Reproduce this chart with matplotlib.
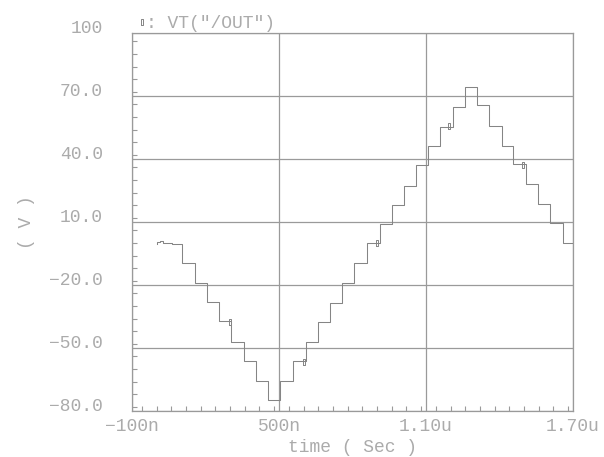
import matplotlib
import matplotlib.pyplot as plt
from matplotlib.ticker import MultipleLocator

matplotlib.use('Agg')

# transient output of /OUT, time in ns, voltage in V
init_t = [0, 3, 14, 28, 62]
init_v = [-0.5, 0.3, 0.8, 0.2, -0.4]

step_t = [105, 157, 207, 256, 304, 357, 406, 456, 504, 558, 609, 660, 708,
          758, 806, 860, 912, 960, 1010, 1059, 1109, 1157, 1209, 1259, 1307,
          1358, 1409, 1456, 1508, 1556, 1606, 1658, 1700]
step_v = [-9.4, -18.9, -28.0, -37.1, -47.1, -56.2, -65.6, -74.8, -65.6,
          -56.2, -47.0, -37.5, -28.4, -19.2, -9.7, -0.2, 9.0, 18.1, 27.3,
          37.1, 46.3, 55.4, 64.6, 74.4, 65.7, 55.9, 46.2, 37.5, 28.0, 18.6,
          9.4, -0.2, -0.2]

marker_t = [300, 600, 900, 1195, 1495]
marker_v = [-37.5, -56.5, 0.0, 55.5, 37.2]

xticks = [-100, 500, 1100, 1700]
xtick_labels = ['\u2212100n', '500n', '1.10u', '1.70u']
yticks = [-80, -50, -20, 10, 40, 70, 100]
ytick_labels = ['\u221280.0', '\u221250.0', '\u221220.0', '10.0', '40.0', '70.0', '100']

TEXT_COLOR = '#ababab'
GRID_COLOR = '#9a9a9a'
LINE_COLOR = '#858585'
plt.rcParams['font.family'] = ['Liberation Mono', 'DejaVu Sans Mono', 'DejaVu Sans']
plt.rcParams['font.size'] = 13

# narrow hollow box used as the trace marker
box = [(-0.2, -0.5), (0.2, -0.5), (0.2, 0.5), (-0.2, 0.5), (-0.2, -0.5)]

fig = plt.figure(figsize=(6.04, 4.57), dpi=100)
ax = fig.add_axes([132 / 604, 46 / 457, 441 / 604, 378 / 457])

ax.plot(init_t + step_t, init_v + step_v, drawstyle='steps-post',
        color=LINE_COLOR, linewidth=0.75)
ax.plot(marker_t, marker_v, linestyle='none', marker=box, markersize=5,
        markerfacecolor='none', markeredgecolor=LINE_COLOR, markeredgewidth=0.7)

ax.set_xlim(-100, 1700)
ax.set_ylim(-80, 100)
ax.set_xticks(xticks)
ax.set_xticklabels(xtick_labels)
ax.set_yticks(yticks)
ax.set_yticklabels(ytick_labels)
for lbl in ax.get_yticklabels():
    lbl.set_verticalalignment('baseline')
ax.xaxis.set_minor_locator(MultipleLocator(60))
ax.yaxis.set_minor_locator(MultipleLocator(6))
ax.tick_params(which='major', length=0, colors=TEXT_COLOR)
ax.tick_params(axis='y', which='major', pad=21)
ax.tick_params(axis='x', which='major', pad=5)
ax.tick_params(which='minor', direction='in', length=3.5, width=0.8, color=GRID_COLOR)
ax.grid(True, which='major', color=GRID_COLOR, linewidth=0.9)
for sp in ax.spines.values():
    sp.set_color(GRID_COLOR)
    sp.set_linewidth(0.9)

ax.set_xlabel('time ( Sec )', color=TEXT_COLOR, labelpad=3)
ax.set_ylabel('( V )', color=TEXT_COLOR, labelpad=10)

# legend entry above the plot
fig.lines.append(plt.Line2D([142 / 604], [(457 - 22) / 457], transform=fig.transFigure,
                            marker=box, markersize=5, markerfacecolor='none',
                            markeredgecolor=LINE_COLOR, markeredgewidth=0.7))
fig.text(146 / 604, (457 - 28.5) / 457, ': VT("/OUT")', color=TEXT_COLOR,
         va='baseline', ha='left')

fig.savefig('out.png', dpi=100, facecolor='white')
plt.close(fig)
